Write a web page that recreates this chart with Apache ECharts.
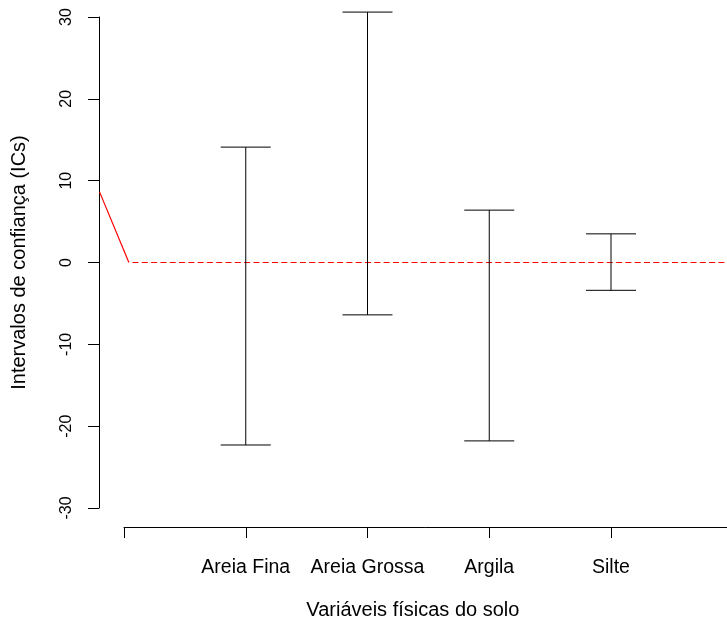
<!DOCTYPE html>
<html>
<head>
<meta charset="utf-8">
<script src="https://cdn.jsdelivr.net/npm/echarts@6/dist/echarts.min.js"></script>
<style>
html,body{margin:0;padding:0;background:#fff;}
#chart{width:727px;height:626px;}
</style>
</head>
<body>
<div id="chart"></div>
<script>
// Categories and confidence-interval bounds
var categories = ['Areia Fina', 'Areia Grossa', 'Argila', 'Silte'];
var categoryPos = [1, 2, 3, 4];
var lowerCI = [-22.3, -6.4, -21.8, -3.4];
var upperCI = [14.1, 30.6, 6.4, 3.5];
// Red reference line pieces
var redSolidX = [-0.2, 0.04];
var redSolidY = [8.6, 0];
var redDashX = [0.07, 5];
var redDashY = [0, 0];
// Axis ticks
var yTicks = [-30, -20, -10, 0, 10, 20, 30];
var xTicks = [0, 1, 2, 3, 4, 5];

var FONT = 'Liberation Sans, Arial, Helvetica, sans-serif';

var errData = categoryPos.map(function (x, i) { return [x, lowerCI[i], upperCI[i]]; });
var redSegments = [
  [redSolidX[0], redSolidY[0], redSolidX[1], redSolidY[1], 0],
  [redDashX[0], redDashY[0], redDashX[1], redDashY[1], 1]
];

var chart = echarts.init(document.getElementById('chart'), null, {renderer: 'canvas'});
chart.setOption({
  animation: false,
  backgroundColor: '#ffffff',
  grid: {left: 124, width: 608.75, top: 17, height: 491, containLabel: false, outerBoundsMode: 'none'},
  xAxis: {
    type: 'value',
    min: xTicks[0], max: xTicks[xTicks.length - 1], interval: 1,
    offset: 19,
    name: 'Variáveis físicas do solo',
    nameLocation: 'middle',
    nameGap: 73,
    nameTextStyle: {fontFamily: FONT, fontSize: 20, color: '#000', padding: [0, 31, 0, 0]},
    axisLine: {show: true, onZero: false, lineStyle: {color: '#000', width: 1}},
    axisTick: {show: true, length: 11, lineStyle: {color: '#000', width: 1}},
    axisLabel: {
      fontFamily: FONT, fontSize: 19.5, color: '#000', margin: 31,
      formatter: function (v) { return categories[categoryPos.indexOf(v)] || ''; }
    },
    splitLine: {show: false}
  },
  yAxis: {
    type: 'value',
    min: yTicks[0], max: yTicks[yTicks.length - 1], interval: 10,
    offset: 25,
    name: 'Intervalos de confiança (ICs)',
    nameLocation: 'middle',
    nameGap: 70,
    nameRotate: 90,
    nameTextStyle: {fontFamily: FONT, fontSize: 20, color: '#000'},
    axisLine: {show: true, onZero: false, lineStyle: {color: '#000', width: 1}},
    axisTick: {show: true, length: 11, lineStyle: {color: '#000', width: 1}},
    axisLabel: {fontFamily: FONT, fontSize: 16, color: '#000', rotate: 90, margin: 24},
    splitLine: {show: false}
  },
  series: [
    {
      type: 'custom', clip: false, silent: true,
      data: redSegments,
      renderItem: function (params, api) {
        var a = api.coord([api.value(0), api.value(1)]);
        var b = api.coord([api.value(2), api.value(3)]);
        var dashed = api.value(4) === 1;
        return {
          type: 'line',
          shape: {x1: a[0], y1: a[1], x2: b[0], y2: b[1]},
          style: {stroke: '#ff0000', lineWidth: dashed ? 1 : 1.2, lineDash: dashed ? [6, 3.3] : null}
        };
      }
    },
    {
      type: 'custom', clip: false, silent: true,
      data: errData,
      renderItem: function (params, api) {
        var x = api.value(0);
        var lo = api.coord([x, api.value(1)]);
        var hi = api.coord([x, api.value(2)]);
        var hw = 25;
        var style = {stroke: '#000', lineWidth: 1};
        return {
          type: 'group',
          children: [
            {type: 'line', shape: {x1: hi[0], y1: hi[1], x2: lo[0], y2: lo[1]}, style: style},
            {type: 'line', shape: {x1: hi[0] - hw, y1: hi[1], x2: hi[0] + hw, y2: hi[1]}, style: style},
            {type: 'line', shape: {x1: lo[0] - hw, y1: lo[1], x2: lo[0] + hw, y2: lo[1]}, style: style}
          ]
        };
      }
    }
  ]
});
</script>
</body>
</html>
